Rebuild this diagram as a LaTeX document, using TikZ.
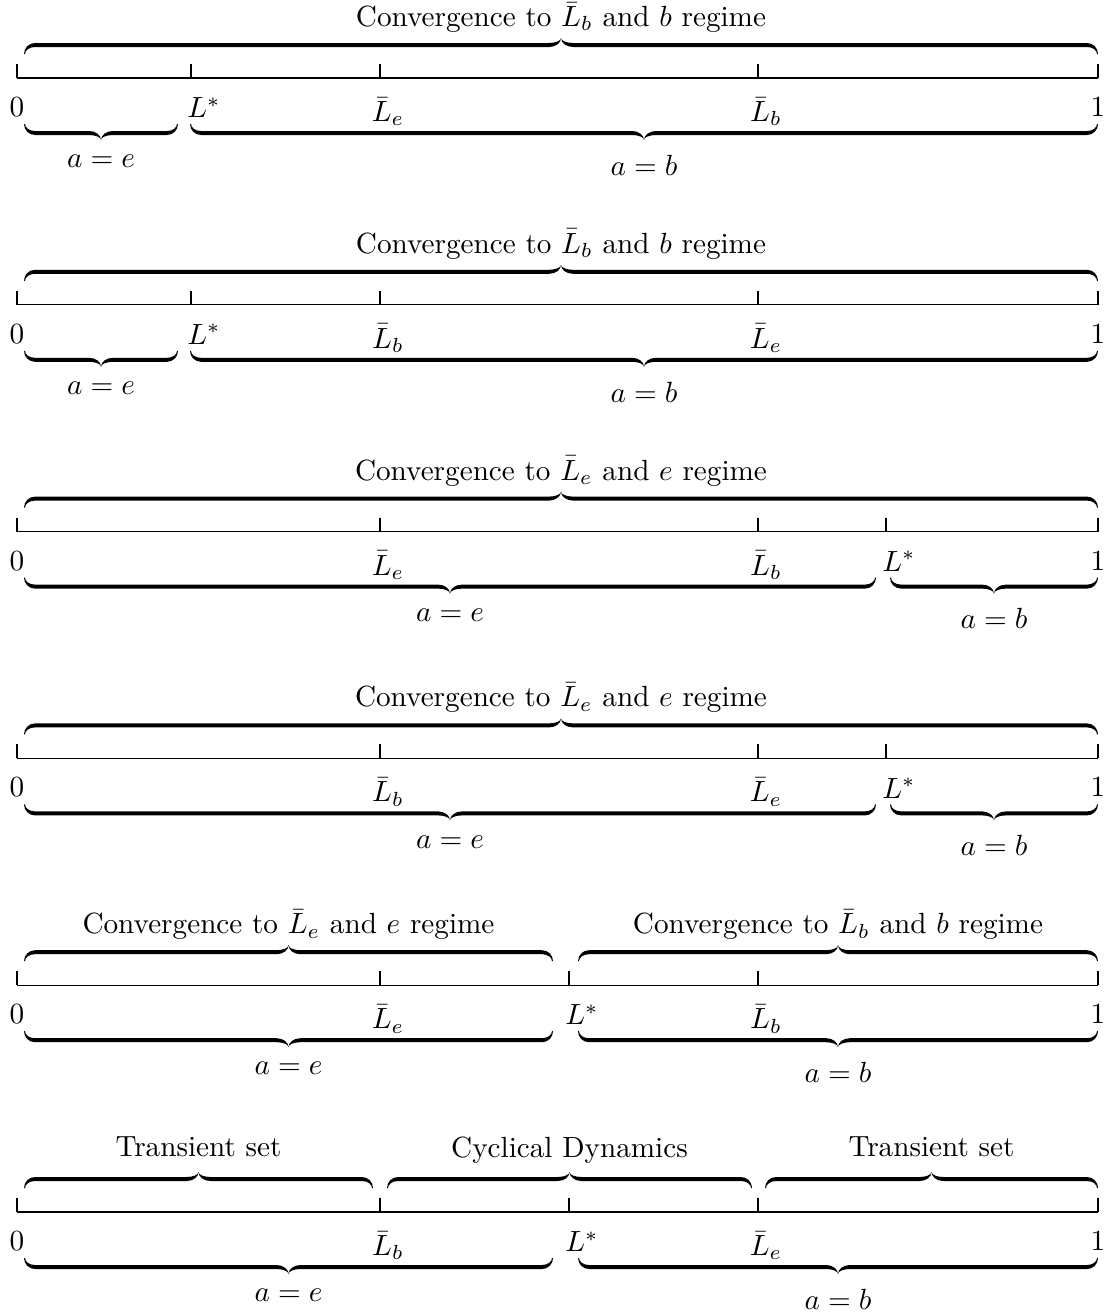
\documentclass[tikz,border=0pt]{standalone}

% one drawing unit = one pixel of the 1107 x 1312 layout, y pointing down
\newcommand\unitpt{0.34247}

% brace geometry (drawing units): curl width and depth, half bar thickness,
% tip height and half width, thickness of the curl ends, Bezier arc constant
\newcommand\brR{11}
\newcommand\brD{9}
\newcommand\brH{2}
\newcommand\brT{7}
\newcommand\brQ{12}
\newcommand\brE{1}
\newcommand\brK{0.5523}

\tikzset{
  axis/.style={line width=0.4pt},
  ticklabel/.style={anchor=north, inner sep=0pt},
  bracelabel/.style={anchor=north, inner sep=0pt},
  bracefill/.style={fill=black},
}

% axis line of one row, with the end ticks and the end labels 0 and 1
\newcommand\rowaxis[2]{%
  \coordinate (#1-lo) at (17,#2);
  \coordinate (#1-hi) at (1098,#2);
  \draw[axis] (#1-lo) -- (#1-hi);
  \draw[axis] (#1-lo) -- ++(0,-14);
  \draw[axis] (#1-hi) -- ++(0,-14);
  \node[ticklabel] (#1-zero) at ([shift={(0,19)}]#1-lo) {$0$};
  \node[ticklabel] (#1-one) at ([shift={(0,19)}]#1-hi) {$1$};
}

% inner tick: row, key, x, axis y, label, label x offset
\newcommand\axismark[6]{%
  \coordinate (#1-#2) at (#3,#4);
  \draw[axis] (#1-#2) -- ++(0,-14);
  \node[ticklabel] (#1-#2-lab) at ([shift={(#6,19)}]#1-#2) {#5};
}

% filled brace from x1 to x2 with its bar at y; direction 1 = tip down, -1 = tip up
\newcommand\bracefillpath[5]{%
  \pgfmathsetmacro\brW{#3-#2}%
  \pgfmathsetmacro\brM{\brW/2}%
  \coordinate (#1-tip) at ({(#2+#3)/2},{#4+#5*\brT});
  \begin{scope}[shift={(#2,#4)}, yscale=#5]
  \fill[bracefill] (0,-\brD)
    .. controls (0,{-\brD+\brK*(\brD+\brH)}) and ({\brR-\brK*\brR},\brH) .. (\brR,\brH)
    -- ({\brM-\brQ},\brH)
    .. controls ({\brM-\brQ+\brK*\brQ},\brH) and (\brM,{\brT-\brK*(\brT-\brH)}) .. (\brM,\brT)
    .. controls (\brM,{\brT-\brK*(\brT-\brH)}) and ({\brM+\brQ-\brK*\brQ},\brH) .. ({\brM+\brQ},\brH)
    -- ({\brW-\brR},\brH)
    .. controls ({\brW-\brR+\brK*\brR},\brH) and (\brW,{-\brD+\brK*(\brD+\brH)}) .. (\brW,-\brD)
    -- ({\brW-\brE},-\brD)
    .. controls ({\brW-\brE},{-\brD+\brK*(\brD-\brH)}) and ({\brW-\brR+\brK*(\brR-\brE)},-\brH) .. ({\brW-\brR},-\brH)
    -- ({\brM+\brQ},-\brH)
    .. controls ({\brM+\brQ-\brK*\brQ},-\brH) and (\brM,{\brT-\brK*(\brT+\brH)}) .. (\brM,\brT)
    .. controls (\brM,{\brT-\brK*(\brT+\brH)}) and ({\brM-\brQ+\brK*\brQ},-\brH) .. ({\brM-\brQ},-\brH)
    -- (\brR,-\brH)
    .. controls ({\brR-\brK*(\brR-\brE)},-\brH) and (\brE,{-\brD+\brK*(\brD-\brH)}) .. (\brE,-\brD)
    -- cycle;
  \end{scope}
}

% brace above the axis with its label: name, x1, x2, axis y, label
\newcommand\topbrace[5]{%
  \bracefillpath{#1}{#2}{#3}{#4-33}{-1}
  \node[bracelabel] (#1-lab) at ({(#2+#3)/2},{#4-76}) {#5};
}
% brace below the axis with its label: name, x1, x2, axis y, label
\newcommand\botbrace[5]{%
  \bracefillpath{#1}{#2}{#3}{#4+55}{1}
  \node[bracelabel] (#1-lab) at ({(#2+#3)/2},{#4+76.5}) {#5};
}

\newcommand\Le{$\bar{L}_e$}
\newcommand\Lb{$\bar{L}_b$}
\newcommand\Ls{$L^*$}

\begin{document}
\begin{tikzpicture}[x=\unitpt pt, y=-\unitpt pt]
\useasboundingbox (0,0) rectangle (1107,1312);

% row 1
\rowaxis{r1}{78}
\axismark{r1}{star}{191}{78}{\Ls}{13}
\axismark{r1}{le}{380}{78}{\Le}{8}
\axismark{r1}{lb}{758}{78}{\Lb}{8}
\topbrace{r1-top}{24}{1098}{78}{Convergence to $\bar{L}_b$ and $b$ regime}
\botbrace{r1-e}{24}{178}{78}{$a=e$}
\botbrace{r1-b}{190}{1098}{78}{$a=b$}

% row 2
\rowaxis{r2}{304.8}
\axismark{r2}{star}{191}{304.8}{\Ls}{13}
\axismark{r2}{lb}{380}{304.8}{\Lb}{8}
\axismark{r2}{le}{758}{304.8}{\Le}{8}
\topbrace{r2-top}{24}{1098}{304.8}{Convergence to $\bar{L}_b$ and $b$ regime}
\botbrace{r2-e}{24}{178}{304.8}{$a=e$}
\botbrace{r2-b}{190}{1098}{304.8}{$a=b$}

% row 3
\rowaxis{r3}{531.6}
\axismark{r3}{le}{380}{531.6}{\Le}{8}
\axismark{r3}{lb}{758}{531.6}{\Lb}{8}
\axismark{r3}{star}{886}{531.6}{\Ls}{13}
\topbrace{r3-top}{24}{1098}{531.6}{Convergence to $\bar{L}_e$ and $e$ regime}
\botbrace{r3-e}{24}{876}{531.6}{$a=e$}
\botbrace{r3-b}{890}{1098}{531.6}{$a=b$}

% row 4
\rowaxis{r4}{758.4}
\axismark{r4}{lb}{380}{758.4}{\Lb}{8}
\axismark{r4}{le}{758}{758.4}{\Le}{8}
\axismark{r4}{star}{886}{758.4}{\Ls}{13}
\topbrace{r4-top}{24}{1098}{758.4}{Convergence to $\bar{L}_e$ and $e$ regime}
\botbrace{r4-e}{24}{876}{758.4}{$a=e$}
\botbrace{r4-b}{890}{1098}{758.4}{$a=b$}

% row 5
\rowaxis{r5}{985.2}
\axismark{r5}{le}{380}{985.2}{\Le}{8}
\axismark{r5}{star}{569}{985.2}{\Ls}{13}
\axismark{r5}{lb}{758}{985.2}{\Lb}{8}
\topbrace{r5-tope}{24}{553}{985.2}{Convergence to $\bar{L}_e$ and $e$ regime}
\topbrace{r5-topb}{578}{1098}{985.2}{Convergence to $\bar{L}_b$ and $b$ regime}
\botbrace{r5-e}{24}{553}{985.2}{$a=e$}
\botbrace{r5-b}{578}{1098}{985.2}{$a=b$}

% row 6
\rowaxis{r6}{1212}
\axismark{r6}{lb}{380}{1212}{\Lb}{8}
\axismark{r6}{star}{569}{1212}{\Ls}{13}
\axismark{r6}{le}{758}{1212}{\Le}{8}
\topbrace{r6-tr1}{24}{373}{1212}{Transient set}
\topbrace{r6-cyc}{387}{752}{1212}{Cyclical Dynamics}
\topbrace{r6-tr2}{765}{1098}{1212}{Transient set}
\botbrace{r6-e}{24}{553}{1212}{$a=e$}
\botbrace{r6-b}{578}{1098}{1212}{$a=b$}
\end{tikzpicture}
\end{document}
